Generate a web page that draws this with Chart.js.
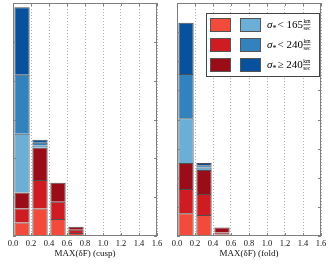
<!DOCTYPE html>
<html>
<head>
<meta charset="utf-8">
<script src="https://cdn.jsdelivr.net/npm/chart.js@4.4.1/dist/chart.umd.min.js"></script>
<style>
  body { margin: 0; background: #fff; }
  #wrap { display: flex; width: 334px; height: 269px; }
  canvas { display: block; }
</style>
</head>
<body>
<div id="wrap">
  <canvas id="cusp" width="167" height="269"></canvas>
  <canvas id="fold" width="167" height="269"></canvas>
</div>
<script>
// bin centres of the histogram (bins 0.2 wide)
const binCenters = [0.1, 0.3, 0.5, 0.7];

// cusp panel, stacked bottom -> top
const cuspLowRed = [0.35, 0.71, 0.44, 0.08];
const cuspMidRed = [0.36, 0.73, 0.44, 0.08];
const cuspHighRed = [0.41, 0.83, 0.49, 0.08];
const cuspLowBlue = [1.51, 0.06, 0, 0];
const cuspMidBlue = [1.52, 0.07, 0, 0];
const cuspHighBlue = [1.74, 0.08, 0, 0];

// fold panel
const foldLowRed = [0.78, 0.72, 0.05];
const foldMidRed = [0.83, 0.72, 0.07];
const foldHighRed = [0.90, 0.83, 0.17];
const foldLowBlue = [1.53, 0.08, 0];
const foldMidBlue = [1.52, 0.08, 0];
const foldHighBlue = [1.76, 0.08, 0];

const legendLimits = ["< 165", "< 240", "\u2265 240"];
const colors = ["#f34b3b", "#cf1c22", "#9a0c17", "#6baed6", "#3182bd", "#08519c"];

const serif = '"Liberation Serif", "DejaVu Serif", serif';

function toPoints(arr) {
  return arr.map((v, i) => ({ x: binCenters[i], y: v }));
}

function makeDatasets(list) {
  return list.map((arr, i) => ({
    data: toPoints(arr),
    backgroundColor: colors[i],
    borderColor: "rgba(20,20,20,0.75)",
    borderWidth: { top: 1, left: 1, right: 1, bottom: 0 },
    borderSkipped: false,
    barPercentage: 0.85,
    categoryPercentage: 1,
  }));
}

// frame + inward tick marks like matplotlib
const framePlugin = {
  id: "frame",
  afterDatasetsDraw(chart) {
    const { ctx, chartArea: a, scales } = chart;
    ctx.save();
    ctx.strokeStyle = "#808080";
    ctx.lineWidth = 1;
    ctx.beginPath();
    scales.y.ticks.forEach((t) => {
      const y = Math.round(scales.y.getPixelForValue(t.value)) + 0.5;
      ctx.moveTo(a.left, y); ctx.lineTo(a.left + 3, y);
      ctx.moveTo(a.right, y); ctx.lineTo(a.right - 3, y);
    });
    scales.x.ticks.forEach((t) => {
      const x = Math.round(scales.x.getPixelForValue(t.value)) + 0.5;
      ctx.moveTo(x, a.bottom); ctx.lineTo(x, a.bottom - 3);
      ctx.moveTo(x, a.top); ctx.lineTo(x, a.top + 3);
    });
    ctx.stroke();
    ctx.strokeRect(Math.round(a.left) + 0.5, Math.round(a.top) + 0.5,
      Math.round(a.width) - 1, Math.round(a.height) - 1);
    ctx.restore();
  },
};

const legendPlugin = {
  id: "sigmaLegend",
  afterDraw(chart) {
    const { ctx, chartArea: a } = chart;
    const right = a.right - 1;
    const left = right - 114;
    const top = a.top + 10;
    ctx.save();
    ctx.fillStyle = "#fff";
    ctx.fillRect(left, top, 114, 64);
    ctx.strokeStyle = "#444";
    ctx.lineWidth = 1;
    ctx.strokeRect(left + 0.5, top + 0.5, 113, 63);
    for (let r = 0; r < 3; r++) {
      const y = top + 5 + r * 20;
      [0, 1].forEach((c) => {
        const x = left + 4 + c * 30;
        ctx.fillStyle = colors[r + c * 3];
        ctx.fillRect(x, y, 21, 14);
        ctx.strokeStyle = "#555";
        ctx.strokeRect(x + 0.5, y + 0.5, 20, 13);
      });
      // label: sigma_* < 165 km/sec
      const cy = y + 10;
      let x = left + 61;
      ctx.fillStyle = "#000";
      ctx.textBaseline = "alphabetic";
      ctx.font = "italic 11px " + serif;
      ctx.fillText("\u03c3", x, cy);
      x += ctx.measureText("\u03c3").width;
      ctx.font = "8px " + serif;
      ctx.fillText("*", x, cy + 3);
      x += ctx.measureText("*").width + 1;
      ctx.font = "11px " + serif;
      const lim = legendLimits[r];
      ctx.fillText(lim, x, cy);
      x += ctx.measureText(lim).width + 0.5;
      ctx.font = "5.5px " + serif;
      const w = Math.max(ctx.measureText("km").width, ctx.measureText("sec").width);
      ctx.textAlign = "center";
      ctx.fillText("km", x + w / 2, cy - 5);
      ctx.fillText("sec", x + w / 2, cy + 2);
      ctx.textAlign = "left";
      ctx.fillRect(x, cy - 3.5, w, 0.6);
    }
    ctx.restore();
  },
};

function makeChart(id, list, yMax, title, pad, extra) {
  return new Chart(document.getElementById(id), {
    type: "bar",
    data: { datasets: makeDatasets(list) },
    options: {
      responsive: false,
      animation: false,
      layout: { padding: pad },
      plugins: { legend: { display: false }, tooltip: { enabled: false } },
      scales: {
        x: {
          type: "linear",
          stacked: true,
          min: 0,
          max: 1.6,
          offset: false,
          grid: { offset: false, color: "#b0b0b0", drawTicks: false },
          border: { display: false, dash: [1, 2] },
          ticks: {
            stepSize: 0.2,
            autoSkip: false,
            maxRotation: 0,
            padding: 3,
            color: "#111",
            font: { family: serif, size: 8.5 },
            callback: (v) => v.toFixed(1),
          },
          title: {
            display: true,
            text: title,
            color: "#111",
            font: { family: serif, size: 9 },
            padding: { top: 0, bottom: 10 },
          },
          afterFit: (s) => { s.height = 33; },
        },
        y: {
          stacked: true,
          display: false,
          min: 0,
          max: yMax,
          ticks: { stepSize: 1 },
        },
      },
    },
    plugins: [framePlugin].concat(extra),
  });
}

makeChart("cusp",
  [cuspLowRed, cuspMidRed, cuspHighRed, cuspLowBlue, cuspMidBlue, cuspHighBlue],
  6, "MAX(\u03b4F) (cusp)", { left: 13, right: 10, top: 3, bottom: 0 }, []);

makeChart("fold",
  [foldLowRed, foldMidRed, foldHighRed, foldLowBlue, foldMidBlue, foldHighBlue],
  8, "MAX(\u03b4F) (fold)", { left: 10, right: 13, top: 3, bottom: 0 }, [legendPlugin]);
</script>
</body>
</html>
